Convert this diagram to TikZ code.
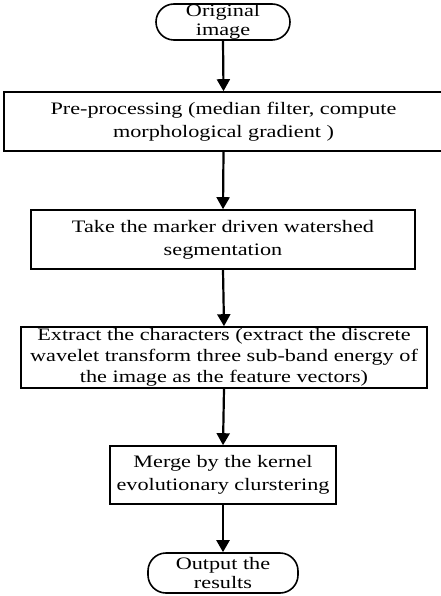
\documentclass[tikz,border=0pt]{standalone}
\usepackage{fontspec}
\setmainfont[FakeStretch=1.27]{Liberation Serif}
\usetikzlibrary{arrows.meta}
\begin{document}
\begin{tikzpicture}[x=1pt,y=-1pt,
  font=\fontsize{17.5}{23}\selectfont,
  stepbox/.style={draw, line width=1.6pt, rectangle, align=center, inner sep=0pt},
  terminal/.style={draw, line width=1.6pt, rounded corners=18pt, align=center, inner sep=0pt},
  flow/.style={line width=2.2pt, -{Triangle[length=12pt,width=13pt]}}]
\useasboundingbox (0,0) rectangle (440,596);
\node[terminal, minimum width=134pt, minimum height=36pt] (start) at (223,22) {Original\\[-4pt]image};
\node[stepbox, minimum width=439pt, minimum height=59pt] (pre) at (223.5,121.5)
  {Pre-processing (median filter, compute\\morphological gradient )};
\node[stepbox, minimum width=384pt, minimum height=59pt] (seg) at (223,239.5)
  {Take the marker driven watershed\\segmentation};
\node[stepbox, minimum width=406pt, minimum height=61pt] (feat) at (224,357.5)
  {Extract the characters (extract the discrete\\[-2pt]wavelet transform three sub-band energy of\\[-2pt]the image as the feature vectors)};
\node[stepbox, minimum width=226pt, minimum height=58pt] (merge) at (223,475)
  {Merge by the kernel\\evolutionary clurstering};
\node[terminal, minimum width=150pt, minimum height=40pt] (out) at (223,573) {Output the\\[-4pt]results};
\draw[flow] (start.south) -- (pre.north);
\draw[flow] (pre.south) -- (seg.north);
\draw[flow] (seg.south) -- (feat.north);
\draw[flow] (feat.south) -- (merge.north);
\draw[flow] (merge.south) -- (out.north);
\end{tikzpicture}
\end{document}
